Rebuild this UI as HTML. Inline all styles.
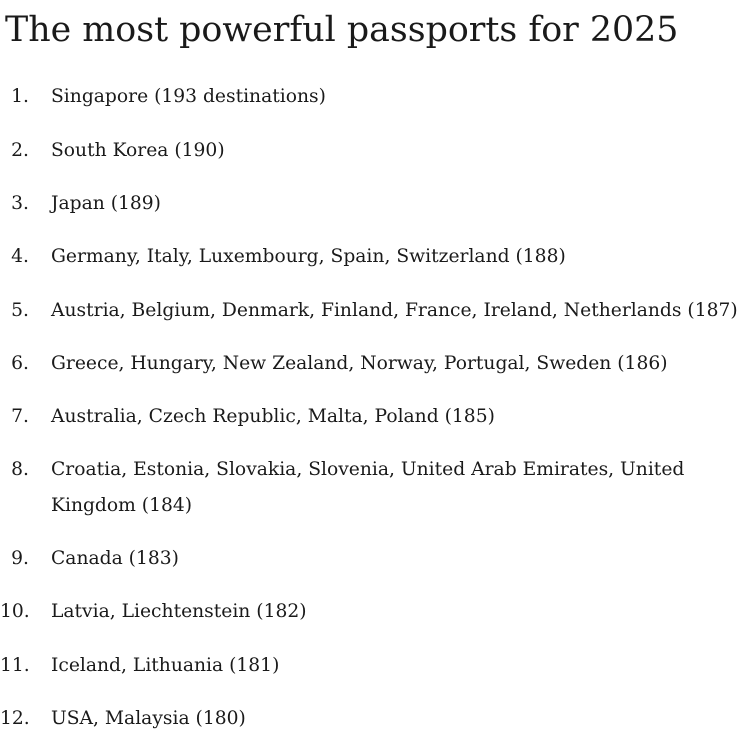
<!DOCTYPE html>
<html><head><meta charset="utf-8"><style>
html,body{margin:0;padding:0;background:#fff;}
body{width:753px;height:746px;position:relative;overflow:hidden;font-family:"DejaVu Serif","Liberation Serif",serif;color:#1a1a1a;}
h1{position:absolute;left:5px;top:5px;margin:0;font-weight:normal;font-size:34.8px;line-height:50px;white-space:nowrap;}
.i{position:absolute;left:0;width:753px;font-size:18.7px;line-height:36px;white-space:nowrap;}
.n{position:absolute;left:0;width:29px;text-align:right;}
.t{position:absolute;left:51px;}
</style></head><body>
<h1>The most powerful passports for 2025</h1>
<div class="i" style="top:79px"><span class="n">1.</span><span class="t">Singapore (193 destinations)</span></div>
<div class="i" style="top:133px"><span class="n">2.</span><span class="t">South Korea (190)</span></div>
<div class="i" style="top:186px"><span class="n">3.</span><span class="t">Japan (189)</span></div>
<div class="i" style="top:239px"><span class="n">4.</span><span class="t">Germany, Italy, Luxembourg, Spain, Switzerland (188)</span></div>
<div class="i" style="top:293px"><span class="n">5.</span><span class="t">Austria, Belgium, Denmark, Finland, France, Ireland, Netherlands (187)</span></div>
<div class="i" style="top:346px"><span class="n">6.</span><span class="t">Greece, Hungary, New Zealand, Norway, Portugal, Sweden (186)</span></div>
<div class="i" style="top:399px"><span class="n">7.</span><span class="t">Australia, Czech Republic, Malta, Poland (185)</span></div>
<div class="i" style="top:452px"><span class="n">8.</span><span class="t">Croatia, Estonia, Slovakia, Slovenia, United Arab Emirates, United<br>Kingdom (184)</span></div>
<div class="i" style="top:541px"><span class="n">9.</span><span class="t">Canada (183)</span></div>
<div class="i" style="top:594px"><span class="n">10.</span><span class="t">Latvia, Liechtenstein (182)</span></div>
<div class="i" style="top:648px"><span class="n">11.</span><span class="t">Iceland, Lithuania (181)</span></div>
<div class="i" style="top:701px"><span class="n">12.</span><span class="t">USA, Malaysia (180)</span></div>
</body></html>
